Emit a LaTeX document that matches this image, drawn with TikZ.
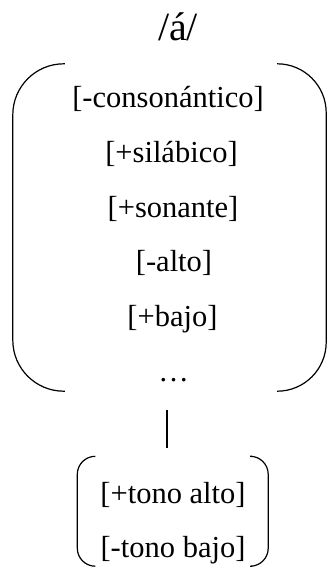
\documentclass[tikz,border=0pt]{standalone}
\usepackage{fontspec}
\setmainfont{Liberation Serif}

\begin{document}
\begin{tikzpicture}[x=1pt, y=-1pt,
            feat/.style={anchor=base, font=\rmfamily\fontsize{30.5}{36}\selectfont},
            brace/.style={line width=1.2pt},
            block/.style={inner sep=0pt, minimum width=#1}]
            \useasboundingbox (0,0) rectangle (327,567);

            \node[anchor=base, font=\rmfamily\fontsize{40}{48}\selectfont] (phon) at (178,41) {/á/};

            % rasgos del segmento
            \node[block=313pt, minimum height=327pt] (big) at (169.5,227.5) {};
            \node[feat] (cons) at (168,107) {[-consonántico]};
            \node[feat] (sil) at (171.5,162) {[+silábico]};
            \node[feat] (son) at (173,217) {[+sonante]};
            \node[feat] (alto) at (174,271) {[-alto]};
            \node[feat] (bajo) at (172.5,326) {[+bajo]};
            \node[feat] (dots) at (173.5,381) {\dots};

            % rasgos tonales
            \node[block=190.5pt, minimum height=109.5pt] (small) at (172.75,511.25) {};
            \node[feat] (talto) at (173,503) {[+tono alto]};
            \node[feat] (tbajo) at (173,557) {[-tono bajo]};

            \draw[brace, rounded corners=51pt] ([xshift=52pt]big.north west) -- (big.north west)
                -- (big.south west) -- ([xshift=52pt]big.south west);
            \draw[brace, rounded corners=49pt] ([xshift=-49pt]big.north east) -- (big.north east)
                -- (big.south east) -- ([xshift=-49pt]big.south east);
            \draw[brace, rounded corners=18pt] ([xshift=18pt]small.north west) -- (small.north west)
                -- (small.south west) -- ([xshift=18pt]small.south west);
            \draw[brace, rounded corners=18pt] ([xshift=-16pt]small.north east) -- (small.north east)
                -- (small.south east) -- ([xshift=-16pt]small.south east);

            \draw[brace, shorten <=19pt, shorten >=8pt] ([xshift=-2.5pt]big.south) -- ([xshift=-2.5pt]big.south |- small.north);
        \end{tikzpicture}
\end{document}
